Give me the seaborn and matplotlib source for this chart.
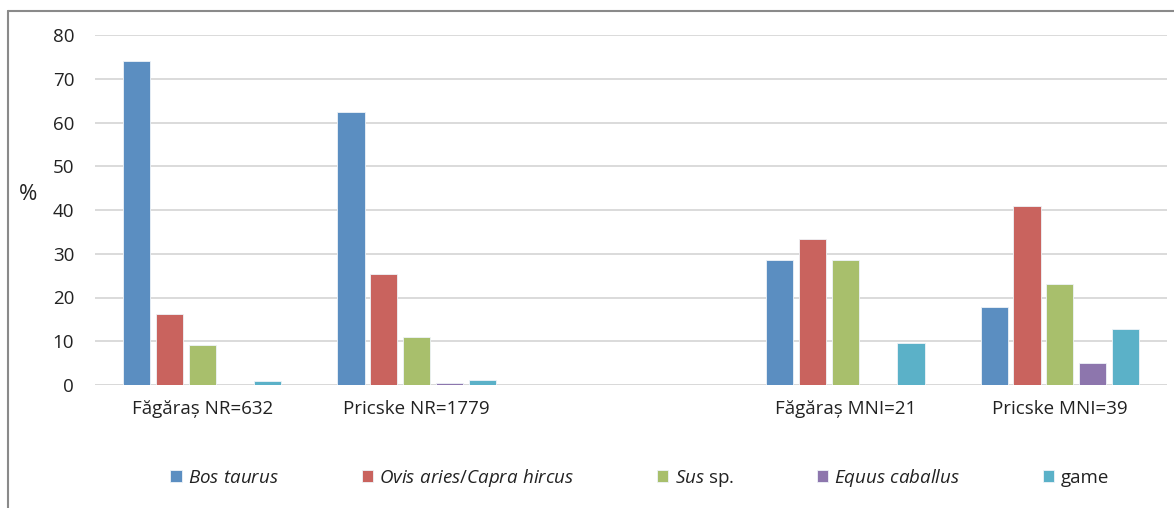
import matplotlib
matplotlib.use("Agg")
import matplotlib.pyplot as plt
from matplotlib.lines import Line2D
import seaborn as sns
import pandas as pd

# Sample groups along the x axis (blank slot separates NR from MNI counts)
sites = ["Făgăraș NR=632", "Pricske NR=1779", " ", "Făgăraș MNI=21", "Pricske MNI=39"]
taxa = ["Bos taurus", "Ovis aries/Capra hircus", "Sus sp.", "Equus caballus", "game"]
taxa_labels = [r"$\mathit{Bos\ taurus}$", r"$\mathit{Ovis\ aries/Capra\ hircus}$",
               r"$\mathit{Sus}$ sp.", r"$\mathit{Equus\ caballus}$", "game"]

# Percentages per taxon for each group
bos_taurus = [74.1, 62.4, 28.6, 17.9]
ovis_capra = [16.2, 25.4, 33.3, 41.0]
sus = [9.2, 11.0, 28.6, 23.1]
equus = [0.0, 0.5, 0.0, 5.1]
game = [0.9, 1.2, 9.5, 12.8]
groups_with_data = ["Făgăraș NR=632", "Pricske NR=1779", "Făgăraș MNI=21", "Pricske MNI=39"]

colors = ["#5B8EC1", "#C9635E", "#A8BF6C", "#8D76AD", "#5BB1C8"]

rows = []
for taxon, vals in zip(taxa, [bos_taurus, ovis_capra, sus, equus, game]):
    for site, v in zip(groups_with_data, vals):
        rows.append({"site": site, "taxon": taxon, "pct": v})
df = pd.DataFrame(rows)

sns.set_theme(style="white")
plt.rcParams["font.family"] = ["Open Sans", "DejaVu Sans"]
plt.rcParams["mathtext.fontset"] = "custom"
plt.rcParams["mathtext.rm"] = "Open Sans"
plt.rcParams["mathtext.it"] = "Open Sans:italic"

fig = plt.figure(figsize=(11.74, 5.08), dpi=100)
ax = fig.add_axes([95 / 1174, 1 - 385 / 508, (1167 - 95) / 1174, (385 - 35) / 508])

sns.barplot(data=df, x="site", y="pct", hue="taxon", order=sites, hue_order=taxa,
            palette=colors, width=0.765, gap=0.17, ax=ax,
            edgecolor="#EEF3F8", linewidth=0.6, saturation=1, errorbar=None)

ax.set_xlim(-0.5, 4.5)
ax.set_ylim(0, 80)
ax.set_yticks(range(0, 81, 10))
ax.yaxis.grid(True, color="#DADADA", linewidth=1.4)
ax.set_axisbelow(True)
for s in ["top", "right", "left", "bottom"]:
    ax.spines[s].set_visible(False)
ax.axhline(0, color="#D5D5D5", linewidth=1.4, zorder=0.5)
ax.tick_params(axis="both", length=0, labelsize=13.5, colors="#222222")
ax.tick_params(axis="y", pad=15)
ax.tick_params(axis="x", pad=11)
ax.set_xlabel("")
ax.set_ylabel("%", rotation=0, fontsize=16, color="#222222", va="center", ha="center")
ax.yaxis.set_label_coords(-0.0625, 0.545)

handles, _ = ax.get_legend_handles_labels()
ax.get_legend().remove()
fig.legend(handles, taxa_labels, loc="center", bbox_to_anchor=(0.545, 1 - 478 / 508),
           ncol=5, frameon=False, fontsize=13.5, handlelength=0.6, handleheight=0.6,
           handletextpad=0.35, columnspacing=4.4, labelcolor="#222222")

# Frame around the figure (left and top edges)
fig.add_artist(Line2D([8 / 1174, 8 / 1174], [0, 1 - 11 / 508], transform=fig.transFigure,
                      color="#8A8A8A", linewidth=1.5))
fig.add_artist(Line2D([8 / 1174, 1], [1 - 11 / 508, 1 - 11 / 508], transform=fig.transFigure,
                      color="#8A8A8A", linewidth=1.5))

fig.savefig("out.png", dpi=100)
